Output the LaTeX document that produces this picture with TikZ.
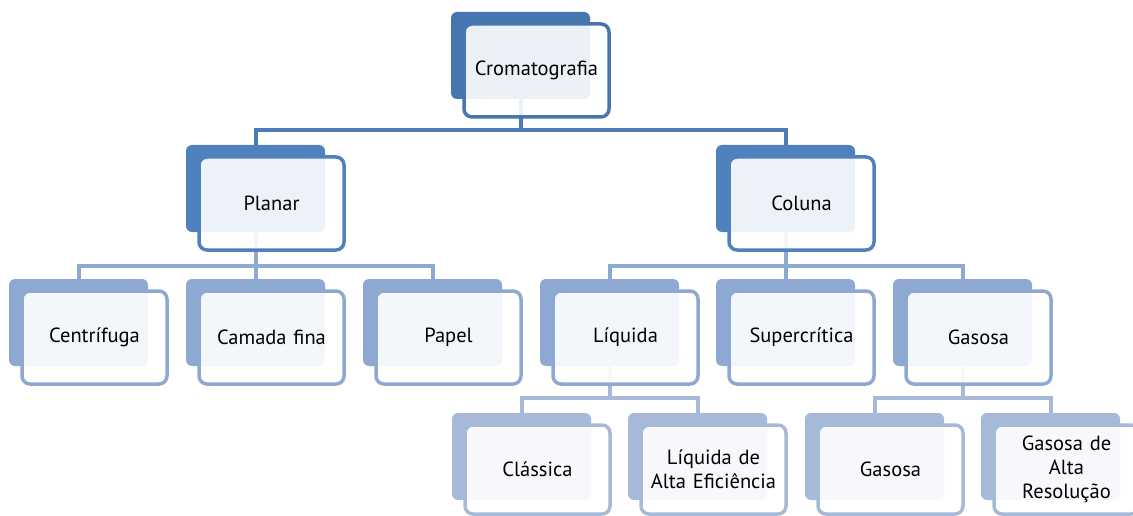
\documentclass[tikz,border=0pt]{standalone}
\usepackage{fontspec}
\setmainfont{PT Sans}
\usetikzlibrary{calc}
\definecolor{cA}{RGB}{71,117,175}
\definecolor{cB}{RGB}{79,129,189}
\definecolor{cC}{RGB}{142,169,209}
\definecolor{cD}{RGB}{166,185,217}
\definecolor{lnA}{RGB}{76,123,182}
\definecolor{lnB}{RGB}{143,170,210}
\definecolor{lnC}{RGB}{166,185,217}
\tikzset{
 backbox/.style={rectangle, rounded corners=6pt, fill=#1, draw=none, anchor=north west,
   minimum width=139pt, minimum height=87pt, inner sep=0pt, outer sep=0pt},
 frontbox/.style={rectangle, rounded corners=8pt, draw=#1, line width=3.5pt, fill=white,
   fill opacity=0.9, text opacity=1, anchor=north west, minimum width=145pt,
   minimum height=93pt, inner sep=2pt, outer sep=0pt, align=center, text width=140pt,
   font=\fontsize{20.5}{24}\selectfont},
 lowfront/.style={minimum height=89pt},
 conn/.style={draw=#1, line width=4pt},
}
\newcommand\mkback[4]{\node[backbox=#4] (#1b) at (#2,#3) {};}
\newcommand\mkfront[4][]{\node[frontbox=#3,#1] (#2) at ($(#2b.north west)+(13,12)$) {#4};}
\begin{document}
\begin{tikzpicture}[x=1pt,y=-1pt]
\useasboundingbox (0,0) rectangle (1133,516);
\clip (0,0) rectangle (1133,516);
\fill[white] (0,0) rectangle (1133,516);
% back boxes
\mkback{crom}{451}{12}{cA}
\mkback{plan}{186}{145}{cB}
\mkback{colu}{716}{145}{cB}
\mkback{cent}{9}{279}{cC}
\mkback{cama}{186}{279}{cC}
\mkback{pape}{363}{279}{cC}
\mkback{liqu}{540}{279}{cC}
\mkback{supe}{716}{279}{cC}
\mkback{gaso}{893}{279}{cC}
\mkback{clas}{452}{413}{cD}
\mkback{lae}{628}{413}{cD}
\mkback{gasb}{805}{413}{cD}
\mkback{gar}{981}{413}{cD}
% connectors
\draw[conn=lnA] (cromb.south) -- ++(0,31) -| (planb.north);
\draw[conn=lnA] (cromb.south) -- ++(0,31) -| (colub.north);
\draw[conn=lnB] (planb.south) -- ++(0,34) -| (centb.north);
\draw[conn=lnB] (planb.south) -- ++(0,34) -| (camab.north);
\draw[conn=lnB] (planb.south) -- ++(0,34) -| (papeb.north);
\draw[conn=lnB] (colub.south) -- ++(0,34) -| (liqub.north);
\draw[conn=lnB] (colub.south) -- ++(0,34) -| (supeb.north);
\draw[conn=lnB] (colub.south) -- ++(0,34) -| (gasob.north);
\draw[conn=lnC] (liqub.south) -- ++(0,32) -| (clasb.north);
\draw[conn=lnC] (liqub.south) -- ++(0,32) -| (laeb.north);
\draw[conn=lnC] (gasob.south) -- ++(0,32) -| (gasbb.north);
\draw[conn=lnC] (gasob.south) -- ++(0,32) -| (garb.north);
% front boxes
\mkfront{crom}{cA}{Cromatografia}
\mkfront{plan}{cB}{Planar}
\mkfront{colu}{cB}{Coluna}
\mkfront{cent}{cC}{Centrífuga}
\mkfront{cama}{cC}{Camada fina}
\mkfront{pape}{cC}{Papel}
\mkfront{liqu}{cC}{Líquida}
\mkfront{supe}{cC}{Supercrítica}
\mkfront{gaso}{cC}{Gasosa}
\mkfront[lowfront]{clas}{cD}{Clássica}
\mkfront[lowfront]{lae}{cD}{Líquida de\\Alta Eficiência}
\mkfront[lowfront]{gasb}{cD}{Gasosa}
\mkfront[lowfront]{gar}{cD}{Gasosa de\\Alta\\Resolução}
\end{tikzpicture}
\end{document}
